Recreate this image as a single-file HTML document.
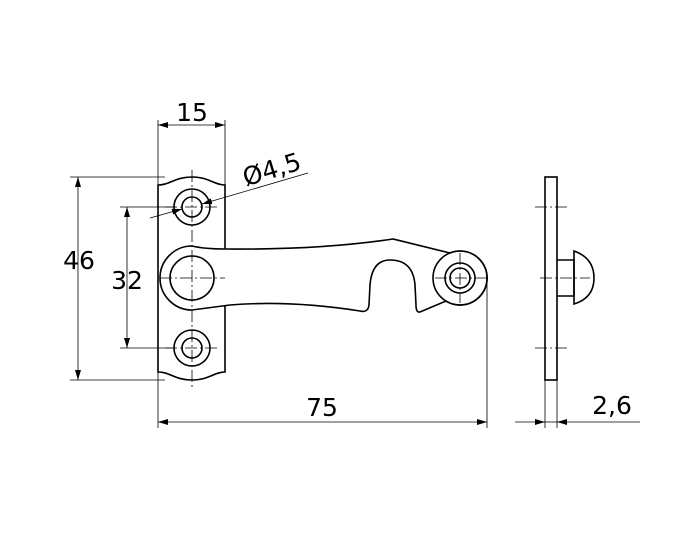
<!DOCTYPE html>
<html><head><style>body{margin:0;background:#fff}svg{display:block}</style></head><body>
<svg width="700" height="535" viewBox="0 0 700 535" xmlns="http://www.w3.org/2000/svg">
<defs>
<marker id="a" viewBox="0 0 10 6" refX="10" refY="3" markerWidth="10" markerHeight="6" orient="auto-start-reverse" markerUnits="userSpaceOnUse"><path d="M0,0L10,3L0,6z" fill="#000"/></marker>
</defs>
<g fill="none" stroke="#000" stroke-width="1.6">
<path d="M158,185 C170,185 175,177 192,177 C209,177 214,185 225,185 L225,372 C214,372 209,380 192,380 C175,380 170,372 158,372 Z" fill="#fff"/>
<path d="M192,246 Q205,249 225,249 Q320,250 393,239 L450,253 A27,27 0 1 1 446,301 L420,312 Q416,313 416,305 L415,285 Q413,260 390,260 Q372,260 370,285 L369,305 Q368,313 360,311 Q290,300 230,305 L192,310 A32,32 0 0 1 192,246 Z" fill="#fff"/>
<circle cx="192" cy="278" r="22"/>
<circle cx="460" cy="278" r="27"/><circle cx="460" cy="278" r="15"/><circle cx="460" cy="278" r="10"/>
<circle cx="192" cy="207" r="18"/><circle cx="192" cy="207" r="10"/>
<circle cx="192" cy="348" r="18"/><circle cx="192" cy="348" r="10"/>
<rect x="545" y="177" width="12" height="203" fill="#fff"/>
<path d="M557,260 L574,260 L574,296 L557,296"/>
<path d="M574,251 Q594,258 594,278 Q594,298 574,304 Z"/>
</g>
<g stroke="#000" stroke-width="0.8" fill="none">
<path d="M192,170V390 M165,207H220 M165,348H220 M160,278H225 M435,278H488 M460,253V303 M535,207H567 M535,348H567 M540,278H590" stroke-dasharray="12,3,2,3"/>
<path d="M158,120V185 M225,120V185 M70,177H165 M70,380H165 M120,207H175 M120,348H175 M158,372V428 M487,278V428 M545,380V428 M557,380V428"/>
<path d="M158,125H225" marker-start="url(#a)" marker-end="url(#a)"/>
<path d="M78,177V380" marker-start="url(#a)" marker-end="url(#a)"/>
<path d="M127,207V348" marker-start="url(#a)" marker-end="url(#a)"/>
<path d="M158,422H487" marker-start="url(#a)" marker-end="url(#a)"/>
<path d="M515,422H545" marker-end="url(#a)"/>
<path d="M640,422H557" marker-end="url(#a)"/>
<path d="M545,422H557"/>
<path d="M150,218L182,209" marker-end="url(#a)"/>
<path d="M308,173L202,204" marker-end="url(#a)"/>
</g>
<g font-family="DejaVu Sans, Liberation Sans, sans-serif" font-size="25" fill="#000" text-anchor="middle">
<text x="192" y="121">15</text>
<text x="79" y="269">46</text>
<text x="127" y="289">32</text>
<text x="322" y="416">75</text>
<text x="612" y="414">2,6</text>
<text x="272" y="178" transform="rotate(-17 272 170)">Ø4,5</text>
</g>
</svg>
</body></html>
